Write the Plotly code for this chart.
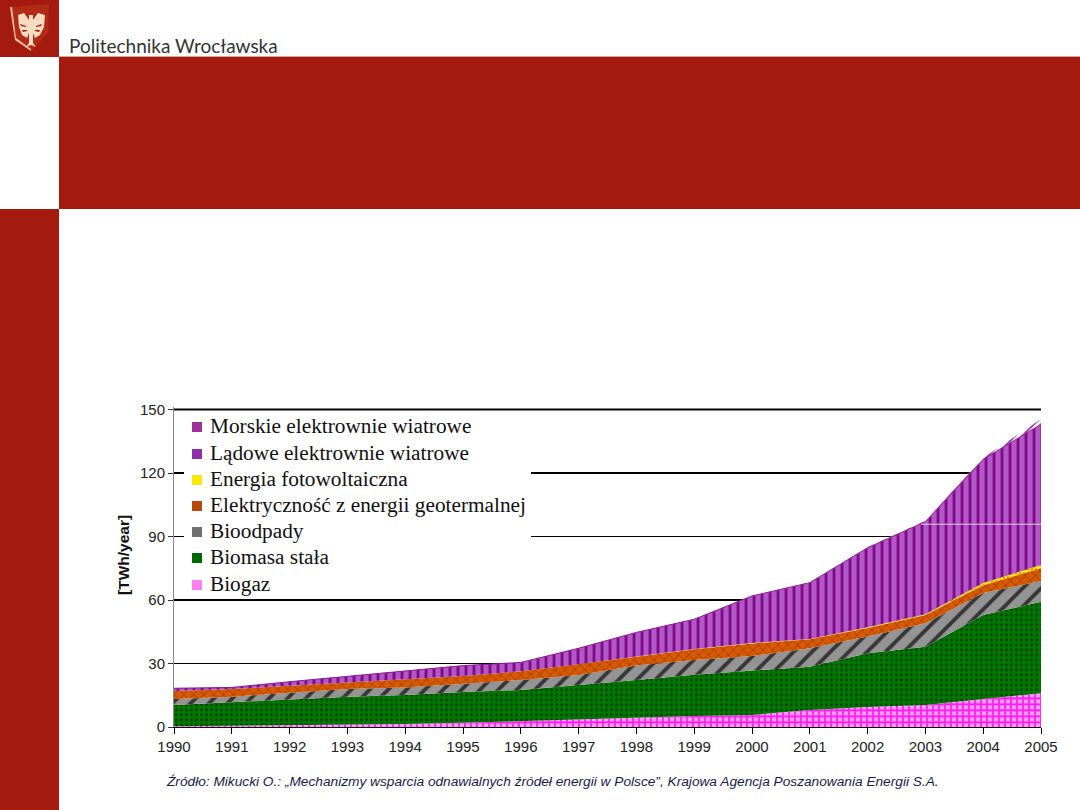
import plotly.graph_objects as go

W, H = 1080, 810
years = list(range(1990, 2006))
series_names = ["Biogaz", "Biomasa stała", "Bioodpady", "Elektryczność z energii geotermalnej",
                "Energia fotowoltaiczna", "Lądowe elektrownie wiatrowe", "Morskie elektrownie wiatrowe"]
biogaz = [0.3, 0.5, 0.8, 1.1, 1.4, 2.0, 2.8, 3.6, 4.6, 5.2, 5.7, 8.0, 9.4, 10.4, 13.2, 16.0]
biomasa = [10.1, 11.2, 12.3, 13.2, 13.7, 14.5, 14.7, 16.1, 17.6, 19.5, 20.9, 20.5, 25.5, 27.5, 39.7, 43.2]
bioodpady = [2.8, 2.6, 3.1, 3.6, 3.6, 4.1, 4.7, 4.9, 6.8, 7.0, 6.9, 8.7, 7.8, 11.1, 10.4, 9.8]
geotermia = [3.8, 3.6, 3.3, 3.2, 4.0, 3.5, 4.1, 5.0, 4.2, 5.0, 6.0, 4.2, 4.1, 3.9, 3.7, 6.0]
fotowoltaika = [0.0, 0.0, 0.0, 0.0, 0.0, 0.0, 0.0, 0.0, 0.1, 0.1, 0.2, 0.2, 0.3, 0.4, 1.0, 1.5]
wiatr_lad = [1.3, 0.8, 1.9, 2.9, 3.9, 4.9, 4.2, 7.6, 11.4, 14.1, 22.2, 26.6, 37.6, 43.7, 58.5, 66.5]
wiatr_morze = [0.0, 0.0, 0.0, 0.0, 0.0, 0.0, 0.0, 0.0, 0.0, 0.0, 0.1, 0.1, 0.2, 0.4, 0.7, 2.5]
y_ticks = [0, 30, 60, 90, 120, 150]
grid_widths = [0, 1, 2, 1, 2, 2]
source = "Źródło: Mikucki O.: „Mechanizmy wsparcia odnawialnych źródeł energii w Polsce”, Krajowa Agencja Poszanowania Energii S.A."
logo_text = "Politechnika Wrocławska"
y_title = "[TWh/year]"

RED = "#a51a0e"
Y_MAX = 151

values = [biogaz, biomasa, bioodpady, geotermia, fotowoltaika, wiatr_lad, wiatr_morze]
patterns = [
    dict(shape="+", fgcolor="#ff20f0", bgcolor="#ff9cff", size=6, solidity=0.5),
    dict(shape=".", fgcolor="#003800", bgcolor="#007800", size=5, solidity=0.22),
    dict(shape="/", fgcolor="#363636", bgcolor="#949494", size=13, solidity=0.3),
    dict(shape="x", fgcolor="#9c3a00", bgcolor="#d85a00", size=7, solidity=0.22),
    dict(shape=".", fgcolor="#ff8000", bgcolor="#ffee00", size=4, solidity=0.3),
    dict(shape="|", fgcolor="#820a8a", bgcolor="#b058c4", size=8, solidity=0.36),
    dict(shape="/", fgcolor="#a030a8", bgcolor="#ffffff", size=5, solidity=0.4),
]
swatches = ["#ff80f0", "#006800", "#707070", "#b84808", "#ffe800", "#9030a8", "#a03098"]
line_colors = [None, None, None, None, None, "#8a1a90", None]

fig = go.Figure()
for name, vals, pat, lc in zip(series_names, values, patterns, line_colors):
    fig.add_trace(go.Scatter(
        x=years, y=vals, name=name, mode="lines", stackgroup="one",
        line=dict(width=1 if lc else 0, color=lc or "rgba(0,0,0,0)"),
        fillpattern=dict(fillmode="replace", **pat), showlegend=False, hoverinfo="skip"))


def px(x):
    return x / W


def py(y):
    return 1 - y / H


def rect(x0, y0, x1, y1, color, layer="below"):
    return dict(type="rect", xref="paper", yref="paper", x0=px(x0), x1=px(x1), y0=py(y1), y1=py(y0),
                fillcolor=color, line=dict(width=0), layer=layer)


def poly(points, color, layer="below"):
    d = "M " + " L ".join(f"{px(a):.5f},{py(b):.5f}" for a, b in points) + " Z"
    return dict(type="path", xref="paper", yref="paper", path=d, fillcolor=color,
                line=dict(width=0), layer=layer)


CREAM = "#f8dcc0"
shapes = [
    rect(0, 0, 59, 57, RED),
    rect(59, 57, W, 209, RED),
    rect(0, 209, 59, H, RED),
    rect(59, 56, W, 57, "#d8a8a0"),
    # herb: tarcza i orzeł
    poly([(10, 7), (49, 4), (48, 33), (31, 51), (15, 40)], "#b02a16"),
    poly([(10, 7), (12, 7), (16, 38), (31, 49), (31, 51), (15, 40)], "#f0c0a0"),
    poly([(18, 15), (24, 13), (29, 20), (29, 33), (27, 38), (22, 35), (19, 27)], CREAM),
    poly([(33, 20), (38, 13), (45, 15), (44, 27), (40, 35), (35, 38), (33, 33)], CREAM),
    poly([(29, 15), (33, 15), (33, 43), (36, 47), (31, 45), (26, 47), (29, 43)], CREAM),
    poly([(20, 24), (26, 26), (26, 27), (21, 26)], RED),
    poly([(22, 30), (27, 30), (27, 31), (23, 32)], RED),
    poly([(42, 24), (36, 26), (36, 27), (41, 26)], RED),
    poly([(40, 30), (35, 30), (35, 31), (39, 32)], RED),
]
for tick, w in zip(y_ticks, grid_widths):
    if w:
        shapes.append(dict(type="line", xref="x", yref="y", x0=years[0], x1=years[-1], y0=tick, y1=tick,
                           line=dict(color="#000000", width=w), layer="below"))
# jasna linia na polu wiatru i biała plansza legendy
shapes.append(dict(type="line", xref="paper", yref="y", x0=px(921), x1=px(1041), y0=95.8, y1=95.8,
                   line=dict(color="#e8cce8", width=1), layer="above"))
shapes.append(rect(184, 412, 531, 598, "#ffffff", "above"))

annotations = [
    dict(text=logo_text, xref="paper", yref="paper", x=px(67), y=py(45), xanchor="left", yanchor="middle",
         showarrow=False, font=dict(family="Lato", size=19, color="#333333")),
    dict(text=y_title, xref="paper", yref="paper", x=px(123), y=py(555), textangle=-90, xanchor="center",
         yanchor="middle", showarrow=False, font=dict(family="Liberation Sans", size=15.5, color="#111111", weight="bold")),
    dict(text=source, xref="paper", yref="paper", x=px(164), y=py(781), xanchor="left", yanchor="middle",
         showarrow=False, font=dict(family="Liberation Sans", size=13.7, color="#1a1a4a", style="italic")),
]
leg_y = [426, 453, 479, 505, 531, 557, 584]
for name, c, ly in zip(series_names[::-1], swatches[::-1], leg_y):
    shapes.append(rect(192, ly - 4, 202, ly + 6, c, "above"))
    annotations.append(dict(text=name, xref="paper", yref="paper", x=px(208), y=py(ly), xanchor="left",
                            yanchor="middle", showarrow=False,
                            font=dict(family="Liberation Serif", size=21.3, color="#111111")))

fig.update_layout(
    width=W, height=H, autosize=False, margin=dict(l=0, r=0, t=0, b=0),
    paper_bgcolor="#ffffff", plot_bgcolor="#ffffff", showlegend=False,
    shapes=shapes, annotations=annotations,
    xaxis=dict(domain=[px(174), px(1041)], range=[years[0], years[-1]], tickmode="array", tickvals=years,
               ticks="outside", ticklen=6, tickcolor="#000000", showgrid=False, zeroline=False, automargin=False,
               showline=True, linecolor="#000000", linewidth=1,
               tickfont=dict(family="Liberation Sans", size=15, color="#222222")),
    yaxis=dict(domain=[py(727), py(727 - 63.5 / 30 * Y_MAX)], range=[0, Y_MAX], tickmode="array", tickvals=y_ticks,
               ticks="outside", ticklen=5, tickcolor="#333333", showgrid=False, zeroline=False, automargin=False,
               showline=True, linecolor="#888888", linewidth=1,
               tickfont=dict(family="Liberation Sans", size=15, color="#222222")),
)
page_fix = ("document.documentElement.style.margin='0';document.documentElement.style.overflow='hidden';"
            "document.body.style.margin='0';document.body.style.overflow='hidden';"
            "document.body.style.height='810px';")
fig.write_html("out.html", post_script=page_fix, config=dict(displayModeBar=False))
